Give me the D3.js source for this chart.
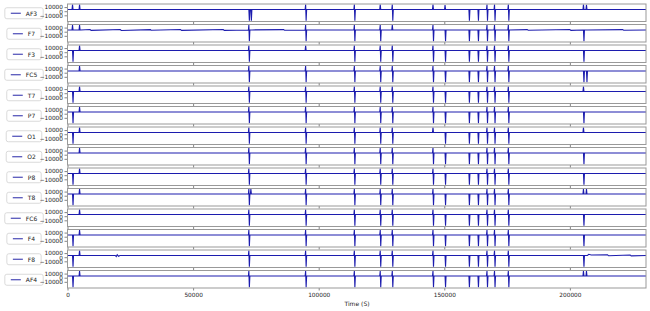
<!DOCTYPE html>
<html>
<head>
<meta charset="utf-8">
<script src="https://cdn.jsdelivr.net/npm/d3@7"></script>
<style>
  body { margin: 0; background: #fff; }
  text { font-family: "DejaVu Sans", sans-serif; }
</style>
</head>
<body>
<div id="container"></div>
<script>
const WIDTH = 650;
const HEIGHT = 311;
const LEFT = 67.5;
const RIGHT = 646;
const TOP = 4;
const PITCH = 20.5;
const PANEL_H = 17.5;

// channel names, top to bottom
const channels = ["AF3", "F7", "F3", "FC5", "T7", "P7", "O1", "O2", "P8", "T8", "FC6", "F4", "F8", "AF4"];

// resting level of each channel
const baselines = [4200, 4300, 4200, 4100, 4300, 4200, 4200, 4100, 4200, 4300, 4200, 4200, 4300, 4200];

// artefact times shared by every channel (samples)
const spikeTimes = [2000, 4800, 72200, 73000, 94800, 114200, 124500, 129300, 145500, 150300,
    159800, 163400, 167000, 170000, 175500, 205400, 206600];

// highest value reached at each artefact, per channel
const spikeHigh = [
    [16000, 16000, 4200, 4200, 16000, 16000, 16000, 16000, 16000, 15000, 4200, 4200, 16000, 16000, 16000, 16000, 15500],
    [16000, 16000, 16000, 4300, 16000, 16000, 16000, 16000, 16000, 4300, 4300, 4300, 16000, 16000, 16000, 4300, 4300],
    [4200, 16000, 16000, 4200, 16000, 16000, 16000, 16000, 16000, 4200, 4200, 4200, 16000, 16000, 16000, 4200, 4200],
    [4100, 16000, 16000, 4100, 16000, 16000, 16000, 16000, 16000, 4100, 4100, 4100, 16000, 16000, 16000, 4100, 4100],
    [4300, 16000, 16000, 4300, 16000, 16000, 16000, 16000, 16000, 4300, 4300, 4300, 16000, 16000, 16000, 16000, 4300],
    [4200, 16000, 16000, 4200, 16000, 16000, 16000, 16000, 16000, 4200, 4200, 4200, 16000, 16000, 16000, 4200, 4200],
    [4200, 16000, 16000, 4200, 16000, 16000, 16000, 16000, 16000, 4200, 4200, 4200, 16000, 16000, 16000, 16000, 4200],
    [4100, 16000, 16000, 4100, 16000, 16000, 16000, 16000, 16000, 4100, 4100, 4100, 16000, 16000, 16000, 4100, 4100],
    [4200, 16000, 16000, 4200, 16000, 16000, 16000, 16000, 16000, 4200, 4200, 4200, 16000, 16000, 16000, 4200, 4200],
    [4300, 16000, 16000, 16000, 16000, 16000, 16000, 16000, 16000, 4300, 4300, 4300, 16000, 16000, 16000, 16000, 16000],
    [4200, 16000, 16000, 4200, 16000, 16000, 16000, 16000, 16000, 4200, 4200, 4200, 16000, 16000, 16000, 4200, 4200],
    [4200, 16000, 16000, 4200, 16000, 16000, 16000, 16000, 16000, 4200, 4200, 4200, 16000, 16000, 16000, 4200, 4200],
    [4300, 16000, 16000, 4300, 16000, 16000, 16000, 16000, 16000, 4300, 4300, 4300, 16000, 16000, 16000, 4300, 4300],
    [4200, 16000, 16000, 4200, 16000, 16000, 16000, 16000, 16000, 4200, 4200, 4200, 16000, 16000, 16000, 16000, 16000]
];

// lowest value reached at each artefact, per channel
const spikeLow = [
    [4200, 4200, -23000, -23000, -23000, -23000, 4200, -23000, 4200, 4200, -23000, -23000, -23000, -23000, -23000, 4200, 4200],
    [4300, 4300, -23000, 4300, -23000, -23000, -23000, 4300, -23000, -23000, -23000, -23000, -23000, -23000, -23000, -23000, 4300],
    [-23000, 4200, -23000, 4200, 4200, -23000, -23000, -23000, -23000, -23000, -23000, -23000, -23000, -23000, -23000, -23000, 4200],
    [4100, 4100, -23000, 4100, -23000, -23000, -23000, -23000, -23000, -23000, -23000, -23000, -23000, -23000, -23000, -23000, -23000],
    [-23000, 4300, -23000, 4300, -23000, -23000, -23000, -23000, -23000, -23000, -23000, -23000, -23000, -23000, -23000, 4300, 4300],
    [-23000, 4200, -23000, 4200, -23000, -23000, -23000, -23000, -23000, -23000, -23000, -23000, -23000, -23000, -23000, -23000, 4200],
    [-23000, 4200, -23000, 4200, -23000, -23000, -23000, -23000, 4200, -23000, -23000, -23000, -23000, -23000, -23000, 4200, 4200],
    [4100, 4100, -23000, 4100, -23000, -23000, -23000, -23000, -23000, -23000, -23000, -23000, -23000, -23000, -23000, -23000, 4100],
    [-23000, 4200, -23000, 4200, -23000, -23000, -23000, -23000, -23000, -23000, -23000, -23000, -23000, -23000, -23000, -23000, 4200],
    [-23000, 4300, -23000, 4300, -23000, -23000, -23000, -23000, -23000, -23000, -23000, -23000, -23000, -23000, -23000, 4300, 4300],
    [4200, 4200, -23000, 4200, -23000, -23000, -23000, -23000, -23000, -23000, -23000, -23000, -23000, -23000, -23000, -23000, 4200],
    [-23000, 4200, -23000, 4200, -23000, -23000, -23000, -23000, -23000, -23000, -23000, -23000, -23000, -23000, -23000, -23000, 4200],
    [-23000, 4300, -23000, 4300, -23000, -23000, -23000, -23000, -23000, -23000, -23000, -23000, -23000, -23000, -23000, -23000, 4300],
    [-23000, 4200, -23000, 4200, -23000, -23000, -23000, -23000, -23000, -23000, -23000, -23000, -23000, -23000, -23000, 4200, 4200]
];

// small wobbles on the F7 and F8 traces
const f7Ripple = [[9000, 5300], [9400, 3200], [21000, 5400], [21400, 3100], [33000, 5000], [33300, 3500],
    [45000, 5200], [45400, 3300], [62000, 5300], [62400, 3200], [86000, 5000], [86400, 3400],
    [183000, 5100], [183400, 3400], [200000, 5200], [200400, 3300], [221000, 5000], [221400, 3500]];
const f8Ripple = [[19000, 4300], [19400, 1800], [19800, 6200], [20300, 2200], [20900, 4300],
    [207500, 7000], [208500, 5200], [215000, 5600], [215400, 3400], [224000, 5500], [224400, 3300]];

const xTicks = [0, 50000, 100000, 150000, 200000];
const yTicks = [10000, 0, -10000];
const X_MAX = 230300;

const LINE_COLOUR = "#1c1cae";

var buildSeries = function (ci) {
    var base = baselines[ci];
    var pts = [[0, base]];
    spikeTimes.forEach(function (t, i) {
        pts.push([t - 200, base], [t, spikeHigh[ci][i]], [t + 200, spikeLow[ci][i]], [t + 400, base]);
    });
    var extra = channels[ci] === "F7" ? f7Ripple : channels[ci] === "F8" ? f8Ripple : [];
    extra.forEach(function (p) { pts.push(p); });
    pts.push([X_MAX, base]);
    pts.sort(function (a, b) { return a[0] - b[0]; });
    return pts;
};

var translate = function (x, y) {
    return "translate(" + x + "," + y + ")";
};

var createChart = function () {
    var svg = d3.select("#container")
        .append("svg")
        .attr("width", WIDTH)
        .attr("height", HEIGHT);

    var xScale = d3.scaleLinear().domain([0, X_MAX]).range([LEFT, RIGHT]);
    var yScale = d3.scaleLinear().domain([-25000, 17500]).range([PANEL_H, 0]);

    var line = d3.line()
        .x(function (d) { return xScale(d[0]); })
        .y(function (d) { return yScale(d[1]); });

    svg.append("defs").append("clipPath")
        .attr("id", "panelClip")
        .append("rect")
        .attr("x", LEFT).attr("y", 0)
        .attr("width", RIGHT - LEFT).attr("height", PANEL_H);

    channels.forEach(function (name, ci) {
        var top = TOP + ci * PITCH;
        var g = svg.append("g").attr("transform", translate(0, top));

        // legend first, so tick labels sit on top of it
        var lg = g.append("g");
        var label = lg.append("text")
            .attr("font-size", 6)
            .attr("fill", "#222")
            .attr("dominant-baseline", "central")
            .text(name);
        var tw = label.node().getComputedTextLength();
        var boxW = 6 + 10 + 5 + tw + 6;
        var boxH = 11;
        var bx = 24 - boxW / 2;
        var by = PANEL_H / 2 - boxH / 2 + 0.5;
        lg.insert("rect", "text")
            .attr("x", bx).attr("y", by)
            .attr("width", boxW).attr("height", boxH)
            .attr("rx", 2)
            .attr("fill", "#fff")
            .attr("stroke", "#d0d0d0")
            .attr("stroke-width", 0.8);
        lg.append("line")
            .attr("x1", bx + 6).attr("x2", bx + 16)
            .attr("y1", by + boxH / 2).attr("y2", by + boxH / 2)
            .attr("stroke", "#3a3ab0")
            .attr("stroke-width", 1.1);
        label.attr("x", bx + 21).attr("y", by + boxH / 2);

        g.append("path")
            .attr("d", line(buildSeries(ci)))
            .attr("clip-path", "url(#panelClip)")
            .attr("fill", "none")
            .attr("stroke", LINE_COLOUR)
            .attr("stroke-width", 1.1);

        // y axis
        var yAxis = d3.axisLeft(yScale)
            .tickValues(yTicks)
            .tickSize(3)
            .tickPadding(1.5)
            .tickFormat(function (d) { return d < 0 ? "\u2212" + Math.abs(d) : d; });
        var ya = g.append("g").attr("transform", translate(LEFT, 0)).call(yAxis);
        ya.select(".domain").remove();
        ya.selectAll("line").attr("stroke", "#333").attr("stroke-width", 0.6);
        ya.selectAll("text").attr("font-size", 5.8).attr("fill", "#222");

        // x ticks on every panel, labels only on the last
        var xAxis = d3.axisBottom(xScale)
            .tickValues(xTicks)
            .tickSize(2.5)
            .tickPadding(2.5)
            .tickFormat(ci === channels.length - 1 ? d3.format("d") : "");
        var xa = g.append("g").attr("transform", translate(0, PANEL_H)).call(xAxis);
        xa.select(".domain").remove();
        xa.selectAll("line").attr("stroke", "#333").attr("stroke-width", 0.6);
        xa.selectAll("text").attr("font-size", 5.8).attr("fill", "#222");

        // frame
        g.append("rect")
            .attr("x", LEFT).attr("y", 0)
            .attr("width", RIGHT - LEFT).attr("height", PANEL_H)
            .attr("fill", "none")
            .attr("stroke", "#999")
            .attr("stroke-width", 1);
    });

    svg.append("text")
        .attr("x", 357)
        .attr("y", 306)
        .attr("text-anchor", "middle")
        .attr("font-size", 6)
        .attr("fill", "#222")
        .text("Time (S)");
};

window.onload = createChart;
</script>
</body>
</html>
